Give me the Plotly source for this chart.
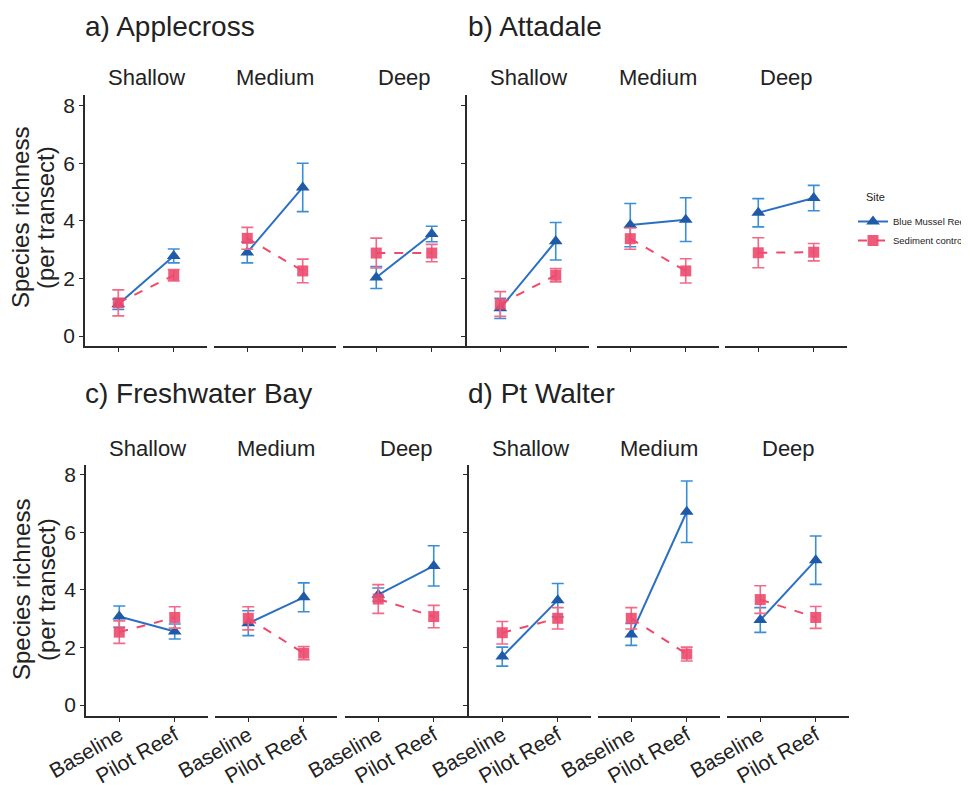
import plotly.graph_objects as go

# ---------------- data ----------------
sites = ["a) Applecross", "b) Attadale", "c) Freshwater Bay", "d) Pt Walter"]
depths = ["Shallow", "Medium", "Deep"]
periods = ["Baseline", "Pilot Reef"]
y_ticks = [0, 2, 4, 6, 8]

# order: Shallow-Baseline, Shallow-Pilot, Medium-Baseline, Medium-Pilot, Deep-Baseline, Deep-Pilot
applecross_reef = [1.10, 2.78, 2.90, 5.16, 2.03, 3.54]
applecross_reef_se = [0.18, 0.24, 0.36, 0.84, 0.38, 0.27]
applecross_ctrl = [1.15, 2.11, 3.39, 2.26, 2.88, 2.88]
applecross_ctrl_se = [0.45, 0.20, 0.38, 0.41, 0.52, 0.30]

attadale_reef = [0.96, 3.29, 3.85, 4.04, 4.28, 4.79]
attadale_reef_se = [0.35, 0.65, 0.75, 0.76, 0.49, 0.44]
attadale_ctrl = [1.11, 2.11, 3.38, 2.26, 2.89, 2.91]
attadale_ctrl_se = [0.43, 0.23, 0.37, 0.42, 0.52, 0.30]

freshwater_reef = [3.07, 2.55, 2.84, 3.74, 3.83, 4.83]
freshwater_reef_se = [0.37, 0.26, 0.43, 0.50, 0.23, 0.70]
freshwater_ctrl = [2.53, 3.04, 3.01, 1.80, 3.68, 3.07]
freshwater_ctrl_se = [0.39, 0.37, 0.40, 0.23, 0.50, 0.39]

ptwalter_reef = [1.68, 3.64, 2.45, 6.71, 2.95, 5.03]
ptwalter_reef_se = [0.33, 0.58, 0.38, 1.07, 0.43, 0.84]
ptwalter_ctrl = [2.51, 3.01, 3.01, 1.77, 3.66, 3.04]
ptwalter_ctrl_se = [0.39, 0.37, 0.37, 0.24, 0.48, 0.38]

reef_means = [applecross_reef, attadale_reef, freshwater_reef, ptwalter_reef]
reef_ses = [applecross_reef_se, attadale_reef_se, freshwater_reef_se, ptwalter_reef_se]
ctrl_means = [applecross_ctrl, attadale_ctrl, freshwater_ctrl, ptwalter_ctrl]
ctrl_ses = [applecross_ctrl_se, attadale_ctrl_se, freshwater_ctrl_se, ptwalter_ctrl_se]

# ---------------- layout helpers ----------------
W, H = 969, 785
OFF = 8  # page body margin
def px(x):
    return (x - OFF) / W
def py(y):
    return 1 - (y - OFF) / H

FONT = "Liberation Sans, Arial, sans-serif"
BLUE_M = "#1f5aa8"
BLUE_L = "#2b6fc2"
BLUE_E = "#3a8ed6"
PINK_M = "#ec4a6e"
PINK_L = "#ef4a6c"
PINK_E = "#f26a88"
AX = "#2a2a2a"

facet_px = [
    [(85, 207), (214, 336), (343, 465)],
    [(467, 589), (597, 719), (725, 847)],
    [(86, 208), (215, 337), (345, 467)],
    [(469, 591), (598, 720), (727, 849)],
]
row_px = [(95, 346), (95, 346), (465, 716), (465, 716)]
zero_px = [336, 336, 705, 705]
PPU = 28.8

fig = go.Figure()
layout = dict(
    template="none",
    width=W, height=H,
    margin=dict(l=0, r=0, t=0, b=0, autoexpand=False),
    paper_bgcolor="white", plot_bgcolor="white",
    font=dict(family=FONT, color="#222"),
    annotations=[],
)

for p in range(4):
    ytop, ybot = row_px[p]
    z = zero_px[p]
    yr = [-(ybot - z) / PPU, (z - ytop) / PPU]
    yname = "yaxis" if p == 0 else f"yaxis{p+1}"
    yref = "y" if p == 0 else f"y{p+1}"
    first_x = f"x{p*3+1}" if p*3+1 > 1 else "x"
    layout[yname] = dict(
        domain=[py(ybot), py(ytop)], range=yr, anchor=first_x, automargin=False,
        showline=True, linecolor=AX, linewidth=1.6, showgrid=False, zeroline=False,
        ticks="outside", ticklen=4, tickcolor=AX, tickvals=y_ticks,
        showticklabels=(p % 2 == 0), tickfont=dict(size=21, color="#222"),
    )
    for f in range(3):
        k = p * 3 + f + 1
        xname = "xaxis" if k == 1 else f"xaxis{k}"
        xref = "x" if k == 1 else f"x{k}"
        x0, x1 = facet_px[p][f]
        layout[xname] = dict(
            domain=[px(x0), px(x1)], anchor=yref, type="category", automargin=False,
            categoryorder="array", categoryarray=periods,
            range=[-0.6, 1.6], showline=True, linecolor=AX, linewidth=1.6,
            showgrid=False, zeroline=False, ticks="outside", ticklen=4, tickcolor=AX,
            showticklabels=(p >= 2), tickangle=-30, ticklabelstandoff=-7,
            tickfont=dict(size=21, color="#222"),
        )
        rm = reef_means[p][2*f:2*f+2]
        rs = reef_ses[p][2*f:2*f+2]
        cm = ctrl_means[p][2*f:2*f+2]
        cs = ctrl_ses[p][2*f:2*f+2]
        show = (p == 0 and f == 0)
        fig.add_trace(go.Scatter(
            x=periods, y=rm, xaxis=xref, yaxis=yref, mode="lines+markers",
            name="Blue Mussel Reef", legendgroup="reef", showlegend=show,
            line=dict(color=BLUE_L, width=2),
            marker=dict(symbol="triangle-up", size=12, color=BLUE_M),
            error_y=dict(type="data", array=rs, color=BLUE_E, thickness=1.6, width=6),
        ))
        fig.add_trace(go.Scatter(
            x=periods, y=cm, xaxis=xref, yaxis=yref, mode="lines+markers",
            name="Sediment control", legendgroup="ctrl", showlegend=show,
            line=dict(color=PINK_L, width=2, dash="dash"),
            marker=dict(symbol="square", size=11, color=PINK_M, opacity=0.9),
            error_y=dict(type="data", array=cs, color=PINK_E, thickness=1.6, width=6),
        ))
        # facet label
        lab_y = 78 if p < 2 else 448
        layout["annotations"].append(dict(
            text=depths[f], xref="paper", yref="paper", x=px((x0 + x1) / 2), y=py(lab_y),
            xanchor="center", yanchor="middle", showarrow=False,
            font=dict(size=22, color="#222"),
        ))

# panel titles
title_pos = [(83, 27), (466, 27), (83, 393), (466, 393)]
for p, (tx, ty) in enumerate(title_pos):
    layout["annotations"].append(dict(
        text=sites[p], xref="paper", yref="paper", x=px(tx), y=py(ty),
        xanchor="left", yanchor="middle", showarrow=False,
        font=dict(size=28, color="#222"),
    ))

# y axis titles
for yc in (218, 590):
    layout["annotations"].append(dict(
        text="Species richness", xref="paper", yref="paper", x=px(21), y=py(yc),
        xanchor="center", yanchor="middle", textangle=-90, showarrow=False,
        font=dict(size=24, color="#222"),
    ))
    layout["annotations"].append(dict(
        text="(per transect)", xref="paper", yref="paper", x=px(46), y=py(yc),
        xanchor="center", yanchor="middle", textangle=-90, showarrow=False,
        font=dict(size=24, color="#222"),
    ))

# legend title
layout["annotations"].append(dict(
    text="Site", xref="paper", yref="paper", x=px(864), y=py(197),
    xanchor="left", yanchor="middle", showarrow=False,
    font=dict(size=11, color="#222"),
))

layout["legend"] = dict(
    x=px(853), y=py(207), xanchor="left", yanchor="top",
    font=dict(size=9.5, color="#222"), bgcolor="rgba(0,0,0,0)",
    tracegroupgap=0, itemwidth=30,
)

fig.update_layout(**layout)
fig.write_html("out.html")
